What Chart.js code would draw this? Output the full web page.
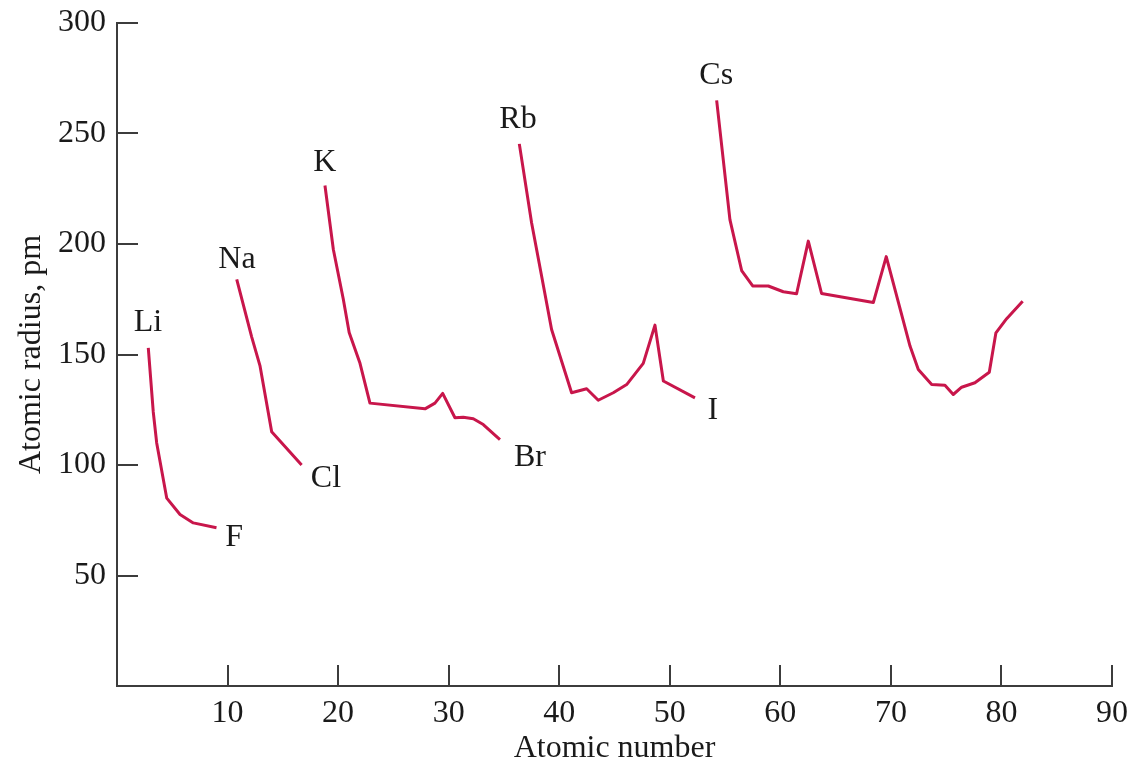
<!DOCTYPE html>
<html>
<head>
<meta charset="utf-8">
<script src="https://cdn.jsdelivr.net/npm/chart.js@4.4.1/dist/chart.umd.min.js"></script>
<style>
  html, body { margin: 0; padding: 0; background: #fff; }
  #wrap { width: 1130px; height: 765px; }
</style>
</head>
<body>
<div id="wrap"><canvas id="radiusChart"></canvas></div>
<script>
// atomic radius (pm) vs atomic number, one trace per period
const period2X = [2.83, 3.28, 3.59, 4.5, 5.7, 6.9, 9.0];
const period2Y = [153, 124, 110, 85, 77.6, 73.8, 71.6];

const period3X = [10.83, 12.18, 12.93, 13.99, 16.7];
const period3Y = [184, 158, 145, 115, 100];

const period4X = [18.81, 19.57, 20.47, 21.0, 21.98, 22.88, 27.86, 28.76, 29.46, 30.57, 31.32, 32.23, 33.13, 34.64];
const period4Y = [226.5, 197.5, 175, 160, 146, 128, 125.4, 128, 132.4, 121.4, 121.6, 120.9, 118.3, 111.5];

const period5X = [36.39, 37.5, 38.41, 39.31, 41.12, 42.48, 43.53, 44.89, 46.1, 47.6, 48.66, 49.42, 52.28];
const period5Y = [245.3, 209.6, 185.4, 161.3, 132.7, 134.5, 129.3, 132.7, 136.4, 146, 163.3, 138, 130.4];

const period6X = [54.24, 55.44, 56.5, 57.5, 58.91, 60.27, 61.47, 62.53, 63.73, 68.41, 69.58, 71.73, 72.48, 73.69, 74.89, 75.64, 76.4, 77.6, 78.9, 79.5, 80.47, 81.92];
const period6Y = [265, 211, 188, 181, 181, 178.4, 177.5, 201.3, 177.6, 173.5, 194.3, 153.8, 143.2, 136.4, 136.1, 131.9, 135.2, 137.2, 142, 159.8, 166.2, 174.1];

// element labels and where they sit (in data units)
const labelText = ['Li', 'F', 'Na', 'Cl', 'K', 'Br', 'Rb', 'I', 'Cs'];
const labelX = [2.8, 10.6, 10.85, 18.9, 18.8, 37.35, 36.27, 53.9, 54.2];
const labelY = [164.6, 67.2, 193, 93.9, 236.9, 103.4, 256.3, 124.7, 276.3];

const xTicks = [10, 20, 30, 40, 50, 60, 70, 80, 90];
const yTicks = [50, 100, 150, 200, 250, 300];

const lineColor = '#c8164b';
const axisColor = '#3c3c3c';
const textColor = '#1a1a1a';
const fontFamily = '"Liberation Serif", "DejaVu Serif", serif';
const fontSize = 32;

function toPoints(xs, ys) {
  return xs.map((x, i) => ({ x: x, y: ys[i] }));
}

function periodSet(xs, ys) {
  return {
    data: toPoints(xs, ys),
    showLine: true,
    borderColor: lineColor,
    borderWidth: 3,
    borderJoinStyle: 'round',
    borderCapStyle: 'butt',
    pointRadius: 0,
    fill: false,
    tension: 0
  };
}

// small tick marks pointing into the plot, like the printed figure
const innerTicks = {
  id: 'innerTicks',
  afterDraw(chart) {
    const { ctx, scales: { x, y } } = chart;
    ctx.save();
    ctx.strokeStyle = axisColor;
    ctx.lineWidth = 2;
    ctx.beginPath();
    xTicks.forEach(v => {
      const px = Math.round(x.getPixelForValue(v));
      ctx.moveTo(px, y.bottom);
      ctx.lineTo(px, y.bottom - 21);
    });
    yTicks.forEach(v => {
      const py = Math.round(y.getPixelForValue(v));
      ctx.moveTo(x.left, py);
      ctx.lineTo(x.left + 21, py);
    });
    ctx.stroke();
    ctx.restore();
  }
};

const elementLabels = {
  id: 'elementLabels',
  afterDatasetsDraw(chart) {
    const { ctx, scales: { x, y } } = chart;
    ctx.save();
    ctx.fillStyle = textColor;
    ctx.font = fontSize + 'px ' + fontFamily;
    ctx.textAlign = 'center';
    ctx.textBaseline = 'middle';
    labelText.forEach((t, i) => {
      ctx.fillText(t, x.getPixelForValue(labelX[i]), y.getPixelForValue(labelY[i]));
    });
    ctx.restore();
  }
};

const ctx = document.getElementById('radiusChart').getContext('2d');
new Chart(ctx, {
  type: 'scatter',
  data: {
    datasets: [
      periodSet(period2X, period2Y),
      periodSet(period3X, period3Y),
      periodSet(period4X, period4Y),
      periodSet(period5X, period5Y),
      periodSet(period6X, period6Y)
    ]
  },
  options: {
    responsive: true,
    maintainAspectRatio: false,
    animation: false,
    layout: { padding: { top: 23, right: 18, left: 0, bottom: 0 } },
    plugins: {
      legend: { display: false },
      tooltip: { enabled: false }
    },
    scales: {
      x: {
        type: 'linear',
        min: 0,
        max: 90,
        afterFit: scale => {
          scale.height = 79;
          scale.paddingLeft = 0;
          scale.paddingRight = 0;
        },
        afterBuildTicks: scale => { scale.ticks = [0].concat(xTicks).map(v => ({ value: v })); },
        ticks: {
          color: textColor,
          font: { family: fontFamily, size: fontSize },
          padding: 8,
          maxRotation: 0,
          callback: v => (v === 0 ? '' : v)
        },
        grid: { display: true, drawOnChartArea: false, drawTicks: false, color: 'rgba(0,0,0,0)' },
        border: { display: true, color: axisColor, width: 2 },
        title: {
          display: true,
          text: 'Atomic number',
          color: textColor,
          font: { family: fontFamily, size: fontSize },
          padding: { top: 0, bottom: -3 }
        }
      },
      y: {
        type: 'linear',
        min: 0,
        max: 300,
        afterFit: scale => {
          scale.width = 117;
          scale.paddingTop = 0;
          scale.paddingBottom = 0;
        },
        afterBuildTicks: scale => { scale.ticks = [0].concat(yTicks).map(v => ({ value: v })); },
        ticks: {
          color: textColor,
          font: { family: fontFamily, size: fontSize },
          padding: 11,
          callback: v => (v === 0 ? '' : v)
        },
        grid: { display: true, drawOnChartArea: false, drawTicks: false, color: 'rgba(0,0,0,0)' },
        border: { display: true, color: axisColor, width: 2 },
        title: {
          display: true,
          text: 'Atomic radius, pm',
          color: textColor,
          font: { family: fontFamily, size: fontSize },
          padding: { top: 12, bottom: 0 }
        }
      }
    }
  },
  plugins: [innerTicks, elementLabels]
});
</script>
</body>
</html>
